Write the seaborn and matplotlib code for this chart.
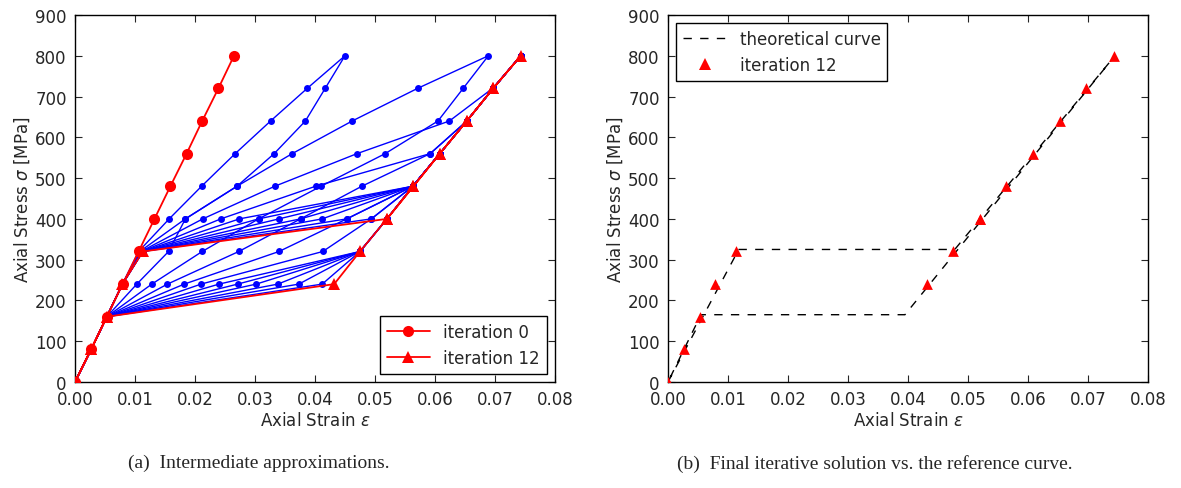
import numpy as np
import pandas as pd
import matplotlib
matplotlib.use("Agg")
import matplotlib.pyplot as plt
import seaborn as sns
from matplotlib.lines import Line2D

# stress levels of the load steps [MPa]
STRESS = [0, 80, 160, 240, 320, 400, 480, 560, 640, 720, 800]
STRESS_DOWN = [720, 640, 560, 480, 400, 320, 240, 160, 80, 0]

# iteration 0 (linear elastic guess)
EPS_IT0 = [0, 0.00265, 0.0053, 0.00795, 0.0106, 0.01325, 0.0159, 0.0186, 0.0212, 0.0239, 0.0265]

# intermediate iterations 1..11, loading branch then unloading branch
EPS_LOAD = {
    1: [0, 0.0027, 0.0053, 0.0079, 0.0106, 0.0157, 0.0211, 0.0267, 0.0326, 0.0387, 0.0450],
    2: [0, 0.0027, 0.0053, 0.0079, 0.0108, 0.0184, 0.0270, 0.0362, 0.0462, 0.0571, 0.0689],
    3: [0, 0.0027, 0.0053, 0.0079, 0.0110, 0.0213, 0.0333, 0.0470, 0.0624, 0.0696, 0.0743],
    4: [0, 0.0027, 0.0053, 0.0079, 0.0111, 0.0243, 0.0401, 0.0592, 0.0653, 0.0697, 0.0743],
    5: [0, 0.0027, 0.0053, 0.0079, 0.0112, 0.0274, 0.0563, 0.0608, 0.0653, 0.0697, 0.0743],
    6: [0, 0.0027, 0.0053, 0.0079, 0.0112, 0.0306, 0.0563, 0.0608, 0.0653, 0.0697, 0.0743],
    7: [0, 0.0027, 0.0053, 0.0079, 0.0113, 0.0340, 0.0563, 0.0608, 0.0653, 0.0697, 0.0743],
    8: [0, 0.0027, 0.0053, 0.0079, 0.0113, 0.0376, 0.0563, 0.0608, 0.0653, 0.0697, 0.0743],
    9: [0, 0.0027, 0.0053, 0.0079, 0.0113, 0.0412, 0.0563, 0.0608, 0.0653, 0.0697, 0.0743],
    10: [0, 0.0027, 0.0053, 0.0079, 0.0113, 0.0453, 0.0563, 0.0608, 0.0653, 0.0697, 0.0743],
    11: [0, 0.0027, 0.0053, 0.0079, 0.0113, 0.0494, 0.0563, 0.0608, 0.0653, 0.0697, 0.0743],
}
EPS_UNLOAD = {
    1: [0.0417, 0.0384, 0.0332, 0.0270, 0.0184, 0.0156, 0.0103, 0.0053, 0.0027, 0],
    2: [0.0647, 0.0605, 0.0517, 0.0410, 0.0306, 0.0212, 0.0128, 0.0053, 0.0027, 0],
    3: [0.0697, 0.0653, 0.0592, 0.0478, 0.0376, 0.0273, 0.0154, 0.0053, 0.0027, 0],
    4: [0.0697, 0.0653, 0.0608, 0.0563, 0.0453, 0.0340, 0.0182, 0.0053, 0.0027, 0],
    5: [0.0697, 0.0653, 0.0608, 0.0563, 0.0494, 0.0413, 0.0210, 0.0053, 0.0027, 0],
    6: [0.0697, 0.0653, 0.0608, 0.0563, 0.0520, 0.0475, 0.0240, 0.0053, 0.0027, 0],
    7: [0.0697, 0.0653, 0.0608, 0.0563, 0.0520, 0.0475, 0.0271, 0.0053, 0.0027, 0],
    8: [0.0697, 0.0653, 0.0608, 0.0563, 0.0520, 0.0475, 0.0302, 0.0053, 0.0027, 0],
    9: [0.0697, 0.0653, 0.0608, 0.0563, 0.0520, 0.0475, 0.0338, 0.0053, 0.0027, 0],
    10: [0.0697, 0.0653, 0.0608, 0.0563, 0.0520, 0.0475, 0.0373, 0.0053, 0.0027, 0],
    11: [0.0697, 0.0653, 0.0608, 0.0563, 0.0520, 0.0475, 0.0412, 0.0053, 0.0027, 0],
}

# iteration 12 (final)
EPS_IT12_LOAD = [0, 0.0027, 0.0053, 0.0079, 0.0113, 0.0520, 0.0564, 0.0608, 0.0653, 0.0697, 0.0743]
EPS_IT12_UNLOAD = [0.0697, 0.0653, 0.0608, 0.0564, 0.0520, 0.0475, 0.0432, 0.0053, 0.0027, 0]

# theoretical hysteresis curve (reference)
THEORY_EPS = [0, 0.0118, 0.0478, 0.0745, 0.0395, 0.0055, 0]
THEORY_SIG = [0, 325, 325, 800, 165, 165, 0]

sns.set_style("ticks")
plt.rcParams['font.family'] = ['DejaVu Sans']
plt.rcParams['mathtext.fontset'] = 'dejavusans'
plt.rcParams['xtick.direction'] = 'in'
plt.rcParams['ytick.direction'] = 'in'
plt.rcParams['xtick.top'] = True
plt.rcParams['ytick.right'] = True
plt.rcParams['xtick.major.size'] = 5
plt.rcParams['ytick.major.size'] = 5
plt.rcParams['axes.edgecolor'] = 'black'
plt.rcParams['axes.linewidth'] = 1.0

# long table for the blue intermediate curves
rows = []
for k in EPS_LOAD:
    eps = EPS_LOAD[k] + EPS_UNLOAD[k]
    sig = STRESS + STRESS_DOWN
    for i, (e, s) in enumerate(zip(eps, sig)):
        rows.append({'iter': k, 'order': i, 'strain': e, 'stress': s})
df_iter = pd.DataFrame(rows)

it12_eps = EPS_IT12_LOAD + EPS_IT12_UNLOAD
it12_sig = STRESS + STRESS_DOWN

fig = plt.figure(figsize=(11.81, 4.89), dpi=100)
ax1 = fig.add_axes([0.0635, 0.2168, 0.4064, 0.7505])
ax2 = fig.add_axes([0.5656, 0.2168, 0.4064, 0.7505])

# ---- (a) intermediate approximations
sns.lineplot(data=df_iter, x='strain', y='stress', units='iter', estimator=None,
             sort=False, color='b', marker='o', markersize=5, markeredgewidth=0,
             linewidth=1.0, ax=ax1, legend=False, zorder=2)
sns.lineplot(x=EPS_IT0, y=STRESS, sort=False, estimator=None, color='r',
             marker='o', markersize=8, markeredgewidth=0, linewidth=1.3, ax=ax1, zorder=3)
sns.lineplot(x=it12_eps, y=it12_sig, sort=False, estimator=None, color='r',
             marker='^', markersize=8, markeredgewidth=0, linewidth=1.3, ax=ax1, zorder=3)

leg_a = [Line2D([], [], color='r', marker='o', markersize=8, markeredgewidth=0, lw=1.3, label='iteration 0'),
         Line2D([], [], color='r', marker='^', markersize=8, markeredgewidth=0, lw=1.3, label='iteration 12')]
ax1.legend(handles=leg_a, loc='lower right', fontsize=12, fancybox=False, framealpha=1,
           edgecolor='black', numpoints=1, handlelength=2.6, borderpad=0.4)

# ---- (b) final solution vs theory
sns.lineplot(x=THEORY_EPS, y=THEORY_SIG, sort=False, estimator=None, color='black',
             linewidth=1.0, dashes=False, ax=ax2, zorder=2)
ax2.lines[-1].set_dashes((6, 6))
sns.scatterplot(x=EPS_IT12_LOAD + EPS_IT12_UNLOAD[4:7], y=STRESS + STRESS_DOWN[4:7],
                color='r', marker='^', s=60, linewidth=0, ax=ax2, zorder=3)

leg_b = [Line2D([], [], color='black', lw=1.0, dashes=(6, 6), label='theoretical curve'),
         Line2D([], [], color='r', marker='^', markersize=8, markeredgewidth=0, lw=0, label='iteration 12')]
ax2.legend(handles=leg_b, loc='upper left', fontsize=12, fancybox=False, framealpha=1,
           edgecolor='black', numpoints=1, handlelength=2.6, borderpad=0.4)

for ax in (ax1, ax2):
    ax.set_xlim(0, 0.08)
    ax.set_ylim(0, 900)
    ax.set_xticks(np.arange(0, 0.081, 0.01))
    ax.set_yticks(np.arange(0, 901, 100))
    ax.set_xticklabels([f"{t:.2f}" for t in np.arange(0, 0.081, 0.01)])
    ax.tick_params(labelsize=12, pad=6)
    ax.set_xlabel(r'Axial Strain $\varepsilon$', fontsize=12, labelpad=2)
    ax.set_ylabel(r'Axial Stress $\sigma$ [MPa]', fontsize=12, labelpad=2)
    for sp in ax.spines.values():
        sp.set_visible(True)

fig.text(0.219, 0.052, '(a)  Intermediate approximations.', ha='center', va='center',
         fontsize=14, family='Liberation Serif')
fig.text(0.741, 0.052, '(b)  Final iterative solution vs. the reference curve.', ha='center',
         va='center', fontsize=14, family='Liberation Serif')

fig.savefig('out.png', dpi=100)
